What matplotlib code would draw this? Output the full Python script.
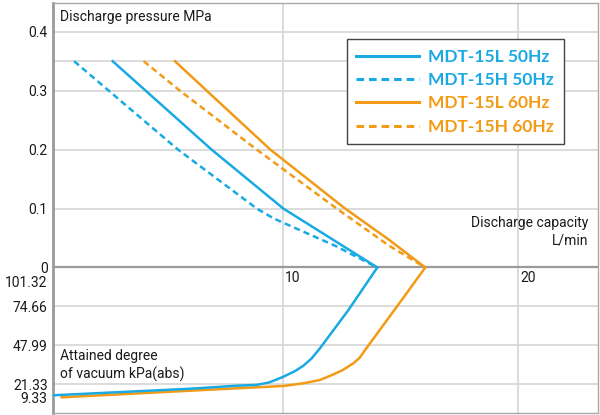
import numpy as np
import matplotlib
matplotlib.use('Agg')
import matplotlib.pyplot as plt
from matplotlib.lines import Line2D
from matplotlib.transforms import offset_copy

plt.rcParams['font.family'] = ['Roboto', 'DejaVu Sans']

# discharge side: capacity (L/min) vs discharge pressure (MPa)
l50_x = [2.74, 6.95, 10.0, 12.2, 14.0]
l50_p = [0.35, 0.20, 0.10, 0.045, 0.0]
h50_x = [1.1, 5.52, 8.87, 9.6, 12.2, 14.0]
h50_p = [0.35, 0.20, 0.10, 0.083, 0.037, 0.0]
l60_x = [5.39, 6.74, 9.45, 12.63, 14.5, 16.04]
l60_p = [0.35, 0.30, 0.20, 0.10, 0.047, 0.0]
h60_x = [4.06, 5.6, 8.87, 12.27, 14.5, 16.04]
h60_p = [0.35, 0.30, 0.20, 0.10, 0.037, 0.0]

# vacuum side: capacity (L/min) vs attained vacuum (kPa abs)
v50_x = [14.0, 12.77, 11.56, 11.2, 10.85, 10.5, 10.0, 9.4, 8.87, 8.0, 6.0, 0.2]
v50_k = [101.32, 72.2, 46.0, 39.0, 34.0, 30.4, 26.5, 22.6, 20.8, 20.0, 17.2, 11.2]
v60_x = [16.04, 14.83, 13.48, 13.25, 12.98, 12.5, 12.0, 11.56, 10.85, 10.0, 6.0, 0.57]
v60_k = [101.32, 74.5, 44.8, 39.5, 35.7, 30.8, 27.2, 24.3, 22.0, 19.8, 15.4, 9.33]

p_ticks = [0.4, 0.3, 0.2, 0.1, 0]
p_grid = [0.4, 0.35, 0.3, 0.2, 0.1]
vac_ticks = [74.66, 47.99, 21.33, 9.33]
vac_grid = [74.66, 47.99, 21.33]

blue = '#19aae3'
orange = '#f39b16'
gridc = '#d6d6d6'
txtc = '#1a1a1a'


def vac_to_y(k):
    # the chart draws the vacuum range below the 0 MPa line, not to scale near the bottom
    return np.interp(k, [0, 9.33, 21.33, 101.32], [-0.2374, -0.2203, -0.1982, 0.0])


fig = plt.figure(figsize=(6, 4.15), dpi=100)
ax = fig.add_axes([53.3 / 600, 1 - 413.3 / 415, (598 - 53.3) / 600, (413.3 - 2.7) / 415])
ax.set_xlim(0.213, 23.39)
ax.set_ylim(-0.2474, 0.4493)

for x in [10, 20]:
    ax.axvline(x, color=gridc, lw=1.2, zorder=0)
for y in p_grid:
    ax.axhline(y, color=gridc, lw=1.2, zorder=0)
for k in vac_grid:
    ax.axhline(vac_to_y(k), color=gridc, lw=1.2, zorder=0)
ax.axhline(0, color='#9a9a9a', lw=1.6, zorder=1)

for s in ax.spines.values():
    s.set_color('#a8a8a8')
    s.set_linewidth(1.0)
ax.spines['left'].set_linewidth(2.0)
ax.spines['left'].set_color('#9a9a9a')

lw = 1.8
dash = (2.5, 1.6)
ax.plot(l50_x, l50_p, color=blue, lw=lw, zorder=3)
ax.plot(h50_x, h50_p, color=blue, lw=lw, dashes=dash, zorder=3)
ax.plot(l60_x, l60_p, color=orange, lw=lw, zorder=3)
ax.plot(h60_x, h60_p, color=orange, lw=lw, dashes=dash, zorder=3)
ax.plot(v60_x, vac_to_y(np.array(v60_k)), color=orange, lw=lw, zorder=3)
ax.plot(v50_x, vac_to_y(np.array(v50_k)), color=blue, lw=lw, zorder=4)

yt = list(p_ticks) + [vac_to_y(k) for k in vac_ticks]
ylab = ['0.4', '0.3', '0.2', '0.1', '0'] + ['%.2f' % k for k in vac_ticks]
ax.set_yticks(yt)
ax.set_yticklabels(ylab)
ax.tick_params(axis='y', length=0, pad=4, labelsize=10, labelcolor=txtc)
ax.set_xticks([])
# 101.32 kPa sits on the same line as 0 MPa, label drawn just under it
ax.text(-0.012, 0, '101.32', transform=offset_copy(ax.get_yaxis_transform(), fig, y=-16, units='dots'),
        ha='right', va='center', fontsize=10, color=txtc)

for x in [10, 20]:
    ax.text(x, 0, str(x), transform=offset_copy(ax.transData, fig, x=2, y=-4, units='dots'),
            ha='left', va='top', fontsize=10, color=txtc)

ax.text(0.5, 0.425, 'Discharge pressure MPa', fontsize=10, color=txtc, va='center')
ax.text(23.0, 0.061, 'Discharge capacity\nL/min', fontsize=10, color=txtc,
        ha='right', va='center', linespacing=1.3)
ax.text(0.5, vac_to_y(34), 'Attained degree\nof vacuum kPa(abs)', fontsize=10, color=txtc,
        ha='left', va='center', linespacing=1.3)

handles = [Line2D([], [], color=blue, lw=2.2),
           Line2D([], [], color=blue, lw=2.2, dashes=dash),
           Line2D([], [], color=orange, lw=2.2),
           Line2D([], [], color=orange, lw=2.2, dashes=dash)]
labels = ['MDT-15L 50Hz', 'MDT-15H 50Hz', 'MDT-15L 60Hz', 'MDT-15H 60Hz']
leg = ax.legend(handles, labels, loc='upper left', bbox_to_anchor=(346.7 / 600, 1 - 39.3 / 415),
                bbox_transform=fig.transFigure, fancybox=False, framealpha=1, edgecolor='#444444',
                handlelength=3.6, handletextpad=0.55, labelspacing=0.42, borderpad=0.55,
                borderaxespad=0, prop={'family': 'Lato', 'weight': 'bold', 'size': 12.5},
                labelcolor='linecolor')
leg.get_frame().set_linewidth(1.0)

fig.savefig('out.png', dpi=100)
